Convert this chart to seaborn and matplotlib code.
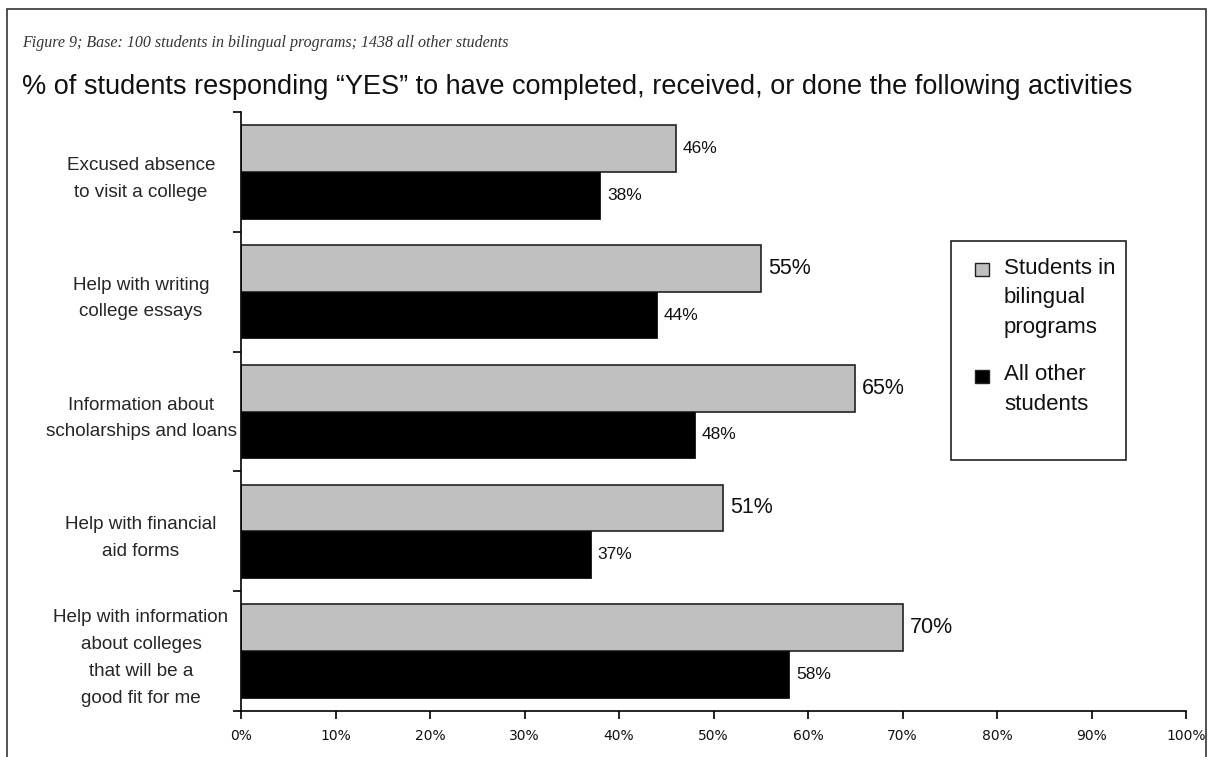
import matplotlib
matplotlib.use("Agg")
import matplotlib.pyplot as plt
import seaborn as sns
import pandas as pd
from matplotlib.patches import Rectangle

categories = [
    "Excused absence\nto visit a college",
    "Help with writing\ncollege essays",
    "Information about\nscholarships and loans",
    "Help with financial\naid forms",
    "Help with information\nabout colleges\nthat will be a\ngood fit for me",
]
series_names = ["Students in\nbilingual\nprograms", "All other\nstudents"]
bilingual = [46, 55, 65, 51, 70]
all_other = [38, 44, 48, 37, 58]
x_ticks = list(range(0, 101, 10))
x_tick_labels = [f"{t}%" for t in x_ticks]
colors = ["#C0C0C0", "#000000"]
big_label = [False, True, True, True, True]

df = pd.DataFrame({
    "category": categories * 2,
    "series": [series_names[0]] * 5 + [series_names[1]] * 5,
    "value": bilingual + all_other,
})

sns.set_theme(style="white")
plt.rcParams["font.family"] = ["Liberation Sans", "DejaVu Sans"]

fig = plt.figure(figsize=(12.08, 7.57), dpi=100)
ax = fig.add_axes([241 / 1208, 1 - 711 / 757, (1186 - 241) / 1208, (711 - 112) / 757])

sns.barplot(data=df, y="category", x="value", hue="series", order=categories,
            hue_order=series_names, palette=colors, saturation=1, width=0.78,
            orient="h", ax=ax, legend=False)

for i, cont in enumerate(ax.containers):
    for bar in cont:
        if i == 0:
            bar.set_edgecolor("#222222")
            bar.set_linewidth(1.2)
        else:
            bar.set_edgecolor("#000000")
            bar.set_linewidth(0.5)
    labels = ax.bar_label(cont, labels=[f"{v:.0f}%" for v in cont.datavalues],
                          padding=5, color="#111111")
    for j, t in enumerate(labels):
        if i == 0 and big_label[j]:
            t.set_fontsize(15.5)
        else:
            t.set_fontsize(12.5)

ax.set_xlim(0, 100)
ax.set_ylim(4.5, -0.5)
ax.set_xticks(x_ticks)
ax.set_xticklabels(x_tick_labels, fontsize=10, family=["DejaVu Sans"])
ax.set_yticks(range(len(categories)))
ax.set_yticklabels(categories, fontsize=13.6, ha="center", linespacing=1.75)
ax.set_yticks([i - 0.5 for i in range(len(categories) + 1)], minor=True)
ax.tick_params(axis="y", which="major", length=0, pad=72)
ax.tick_params(axis="y", which="minor", length=6, width=1.2, direction="out", color="black", left=True)
ax.tick_params(axis="x", which="major", length=6, width=1.2, direction="out", color="black",
               bottom=True, pad=7, labelcolor="#111111")
ax.set_xlabel("")
ax.set_ylabel("")
for side in ["top", "right"]:
    ax.spines[side].set_visible(False)
for side in ["left", "bottom"]:
    ax.spines[side].set_color("black")
    ax.spines[side].set_linewidth(1.2)
ax.grid(False)

# figure border (open at bottom)
fig.patches.append(Rectangle((7 / 1208, -0.05), (1206 - 7) / 1208, (1 - 9 / 757) + 0.05,
                             transform=fig.transFigure, fill=False, edgecolor="#333333",
                             linewidth=1.2))

fig.text(22 / 1208, 1 - 43 / 757, "Figure 9; Base: 100 students in bilingual programs; 1438 all other students",
         fontsize=11.5, style="italic", family=["Liberation Serif", "DejaVu Serif"],
         color="#333333", va="center", ha="left")
fig.text(22 / 1208, 1 - 87 / 757,
         "% of students responding \u201cYES\u201d to have completed, received, or done the following activities",
         fontsize=19.5, color="#111111", va="center", ha="left")

# legend
lx0, lx1, ly0, ly1 = 951, 1126, 241, 460
fig.patches.append(Rectangle((lx0 / 1208, 1 - ly1 / 757), (lx1 - lx0) / 1208, (ly1 - ly0) / 757,
                             transform=fig.transFigure, fill=False, edgecolor="#222222",
                             linewidth=1.2))
entries = [(series_names[0], colors[0], 269.5), (series_names[1], colors[1], 376.5)]
for name, col, yc in entries:
    fig.patches.append(Rectangle((975 / 1208, 1 - (yc + 6.5) / 757), 14 / 1208, 13 / 757,
                                 transform=fig.transFigure, facecolor=col,
                                 edgecolor="#222222", linewidth=1))
    fig.text(1004 / 1208, 1 - (yc - 12) / 757, name, fontsize=16, va="top", ha="left",
             linespacing=1.55, color="#111111")

fig.savefig("out.png", dpi=100)
